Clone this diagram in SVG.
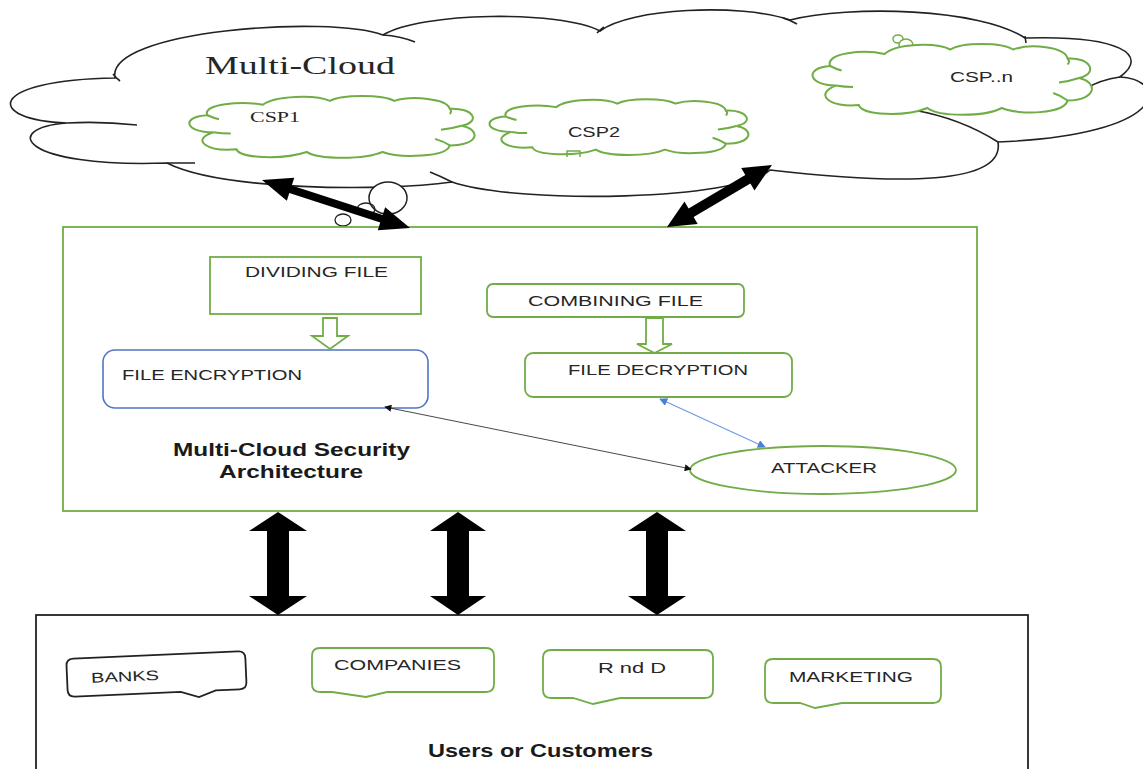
<svg xmlns="http://www.w3.org/2000/svg" width="1143" height="769" viewBox="0 0 1143 769">
<style>
.cloud{fill:#fff;stroke:#222;stroke-width:1.6}
.stub{fill:none;stroke:#222;stroke-width:1.6}
.gcloud{fill:#fff;stroke:#70ad47;stroke-width:2;vector-effect:non-scaling-stroke}
.gstub{fill:none;stroke:#70ad47;stroke-width:2;vector-effect:non-scaling-stroke}
.gbox{fill:#fff;stroke:#70ad47;stroke-width:1.8}
.lbl{font-family:"Liberation Sans",Arial,sans-serif;font-size:14px;fill:#262626}
.serif{font-family:"Liberation Serif","Times New Roman",serif;fill:#262626}
.bold{font-family:"Liberation Sans",Arial,sans-serif;font-size:18px;font-weight:bold;fill:#1a1a1a}
.big{fill:#000}
.hollow{fill:#fff;stroke:#70ad47;stroke-width:1.8}
</style>
<defs>
<marker id="ahK" viewBox="0 0 10 10" refX="9" refY="5" markerUnits="userSpaceOnUse" markerWidth="9" markerHeight="7" orient="auto-start-reverse"><path d="M0,0 L10,5 L0,10 z" fill="#111"/></marker>
<marker id="ahB" viewBox="0 0 10 10" refX="9" refY="5" markerUnits="userSpaceOnUse" markerWidth="10" markerHeight="8" orient="auto-start-reverse"><path d="M0,0 L10,5 L0,10 z" fill="#4a7fd4"/></marker>
</defs>
<rect width="1143" height="769" fill="#fff"/>

<g id="multi-cloud">
<path class="cloud" d="M 67,123 C -15,120 -15,80 115,78 C 105,30 330,15 383,35 C 420,12 560,10 600,31 C 630,8 740,3 790,20 C 850,5 980,8 1025,38 C 1120,35 1150,55 1120,77 C 1170,80 1170,135 998,142 C 1005,185 900,185 770,170 C 740,200 520,205 452,182 C 380,192 220,190 167,163 C 20,168 0,128 67,123 Z"/>
<path class="stub" d="M 67,123 Q 100,121 137,125 M 113,74 Q 116,78 120,81 M 383,35 Q 400,36 415,42 M 597,33 Q 600,30 604,27 M 783,18 Q 790,20 797,24 M 1025,36 L 1026,43 M 1120,77 Q 1100,80 1087,88 M 998,142 Q 960,118 913,110 M 452,182 Q 440,176 430,172 M 167,163 L 195,163"/>
<text class="serif" x="205" y="74" font-size="25" textLength="190" lengthAdjust="spacingAndGlyphs">Multi-Cloud</text>
<ellipse cx="388" cy="198" rx="19" ry="16" fill="#fff" stroke="#222" stroke-width="1.5"/>
<ellipse cx="366" cy="209" rx="9" ry="6" fill="none" stroke="#222" stroke-width="1.3"/>
<ellipse cx="343" cy="220" rx="8" ry="6" fill="none" stroke="#222" stroke-width="1.3"/>
</g>

<g id="csp1">
<g transform="translate(184,93) scale(2.92,1.31)">
<path class="gcloud" d="M 10,30 C 0,30 -1,18 8,17 C 6,8 20,6 27,9 C 31,2 45,1 50,6 C 54,1 68,1 72,6 C 78,2 90,4 91,12 C 99,11 102,22 95,25 C 102,28 101,40 91,40 C 90,49 74,50 68,45 C 62,51 46,51 42,45 C 34,51 19,50 18,43 C 8,45 2,36 10,30 Z"/>
<path class="gstub" d="M 10,30 Q 13,31 16,31 M 8,17 Q 10,19 12,20 M 91,12 Q 92,14 91,16 M 95,25 Q 92,27 88,28 M 91,40 Q 89,37 86,35"/>
</g>
<text class="serif" x="250" y="122" font-size="14" textLength="50" lengthAdjust="spacingAndGlyphs">CSP1</text>
</g>

<g id="csp2">
<g transform="translate(484.7,96.5) scale(2.65,1.18)">
<path class="gcloud" d="M 10,30 C 0,30 -1,18 8,17 C 6,8 20,6 27,9 C 31,2 45,1 50,6 C 54,1 68,1 72,6 C 78,2 90,4 91,12 C 99,11 102,22 95,25 C 102,28 101,40 91,40 C 90,49 74,50 68,45 C 62,51 46,51 42,45 C 34,51 19,50 18,43 C 8,45 2,36 10,30 Z"/>
<path class="gstub" d="M 10,30 Q 13,31 16,31 M 8,17 Q 10,19 12,20 M 91,12 Q 92,14 91,16 M 95,25 Q 92,27 88,28 M 91,40 Q 89,37 86,35"/>
</g>
<path d="M 567,157 L 567,151 L 580,151 L 580,157" fill="none" stroke="#70ad47" stroke-width="1.5"/>
<text class="lbl" x="568" y="137" textLength="52" lengthAdjust="spacingAndGlyphs">CSP2</text>
</g>

<g id="cspn">
<ellipse cx="898" cy="39" rx="5" ry="4" fill="none" stroke="#70ad47" stroke-width="1.5"/>
<ellipse cx="906" cy="45" rx="7" ry="6" fill="#fff" stroke="#70ad47" stroke-width="1.5"/>
<g transform="translate(807.3,40.5) scale(2.86,1.5)">
<path class="gcloud" d="M 10,30 C 0,30 -1,18 8,17 C 6,8 20,6 27,9 C 31,2 45,1 50,6 C 54,1 68,1 72,6 C 78,2 90,4 91,12 C 99,11 102,22 95,25 C 102,28 101,40 91,40 C 90,49 74,50 68,45 C 62,51 46,51 42,45 C 34,51 19,50 18,43 C 8,45 2,36 10,30 Z"/>
<path class="gstub" d="M 10,30 Q 13,31 16,31 M 8,17 Q 10,19 12,20 M 91,12 Q 92,14 91,16 M 95,25 Q 92,27 88,28 M 91,40 Q 89,37 86,35"/>
</g>
<text class="lbl" x="950" y="82" textLength="63" lengthAdjust="spacingAndGlyphs">CSP..n</text>
</g>

<g id="security-architecture">
<rect x="63" y="227" width="914" height="284" fill="#fff" stroke="#70ad47" stroke-width="1.8"/>
<text class="bold" x="173" y="456" font-size="17" textLength="237" lengthAdjust="spacingAndGlyphs">Multi-Cloud Security</text>
<text class="bold" x="219" y="478" font-size="17" textLength="144" lengthAdjust="spacingAndGlyphs">Architecture</text>
</g>

<g id="dividing-file">
<rect class="gbox" x="210" y="257" width="211" height="57"/>
<text class="lbl" x="245" y="277" textLength="143" lengthAdjust="spacingAndGlyphs">DIVIDING FILE</text>
</g>

<g id="file-encryption">
<rect x="103" y="350" width="325" height="58" rx="12" fill="#fff" stroke="#4f76c2" stroke-width="1.6"/>
<text class="lbl" x="122" y="380" textLength="180" lengthAdjust="spacingAndGlyphs">FILE ENCRYPTION</text>
</g>

<g id="combining-file">
<rect class="gbox" x="487" y="284" width="257" height="33" rx="6"/>
<text class="lbl" x="528" y="306" textLength="175" lengthAdjust="spacingAndGlyphs">COMBINING FILE</text>
</g>

<g id="file-decryption">
<rect class="gbox" x="525" y="353" width="267" height="44" rx="8"/>
<text class="lbl" x="568" y="375" textLength="180" lengthAdjust="spacingAndGlyphs">FILE DECRYPTION</text>
</g>

<g id="attacker">
<ellipse cx="823" cy="470" rx="133" ry="24" fill="#fff" stroke="#70ad47" stroke-width="1.8"/>
<text class="lbl" x="771" y="473" textLength="106" lengthAdjust="spacingAndGlyphs">ATTACKER</text>
</g>

<g id="users-customers">
<rect x="36" y="615" width="992" height="170" fill="#fff" stroke="#222" stroke-width="1.8"/>
<text class="bold" x="428" y="757" font-size="17" textLength="225" lengthAdjust="spacingAndGlyphs">Users or Customers</text>
</g>

<g id="banks" transform="rotate(-2.5 156 675)">
<path d="M 74,655 H 239 Q 246,655 246,662 V 686 Q 246,693 239,693 H 215 L 198,699 L 180,693 H 74 Q 67,693 67,686 V 662 Q 67,655 74,655 Z" fill="#fff" stroke="#222" stroke-width="1.8"/>
<text class="lbl" x="91" y="680" textLength="68" lengthAdjust="spacingAndGlyphs">BANKS</text>
</g>

<g id="companies">
<path class="gbox" d="M 320,648 H 486 Q 494,648 494,656 V 684 Q 494,692 486,692 H 387 L 366,697 L 332,692 H 320 Q 312,692 312,684 V 656 Q 312,648 320,648 Z"/>
<text class="lbl" x="334" y="670" textLength="127" lengthAdjust="spacingAndGlyphs">COMPANIES</text>
</g>

<g id="r-and-d">
<path class="gbox" d="M 551,650 H 705 Q 713,650 713,658 V 690 Q 713,698 705,698 H 620 L 593,704 L 573,698 H 551 Q 543,698 543,690 V 658 Q 543,650 551,650 Z"/>
<text class="lbl" x="598" y="673" textLength="68" lengthAdjust="spacingAndGlyphs">R nd D</text>
</g>

<g id="marketing">
<path class="gbox" d="M 773,659 H 933 Q 941,659 941,667 V 695 Q 941,703 933,703 H 842 L 815,708 L 800,703 H 773 Q 765,703 765,695 V 667 Q 765,659 773,659 Z"/>
<text class="lbl" x="789" y="682" textLength="124" lengthAdjust="spacingAndGlyphs">MARKETING</text>
</g>

<g id="connectors">
<polygon class="big" transform="translate(262,180) rotate(17.97)" points="0,0 30,-12 30,-4 125.6,-4 125.6,-12 155.6,0 125.6,12 125.6,4 30,4 30,12"/>
<polygon class="big" transform="translate(667,227) rotate(-30.56)" points="0,0 28,-13 28,-5 93.9,-5 93.9,-13 121.9,0 93.9,13 93.9,5 28,5 28,13"/>
<polygon class="hollow" points="323,318 337,318 337,336 348,336 330,349 312,336 323,336"/>
<polygon class="hollow" points="646,318 663,318 663,344 672,344 654.5,353 637,344 646,344"/>
<line x1="385" y1="407" x2="691" y2="469" stroke="#333" stroke-width="0.9" marker-start="url(#ahK)" marker-end="url(#ahK)"/>
<line x1="660" y1="399" x2="765" y2="447" stroke="#6f9be0" stroke-width="1.2" marker-start="url(#ahB)" marker-end="url(#ahB)"/>
<polygon class="big" points="278,512 307,531 289,531 289,596 307,596 278,615 249,596 267,596 267,531 249,531"/>
<polygon class="big" points="458,512 486,531 469,531 469,596 486,596 458,615 430,596 447,596 447,531 430,531"/>
<polygon class="big" points="657,512 686,531 668,531 668,596 686,596 657,615 628,596 646,596 646,531 628,531"/>
</g>
</svg>
